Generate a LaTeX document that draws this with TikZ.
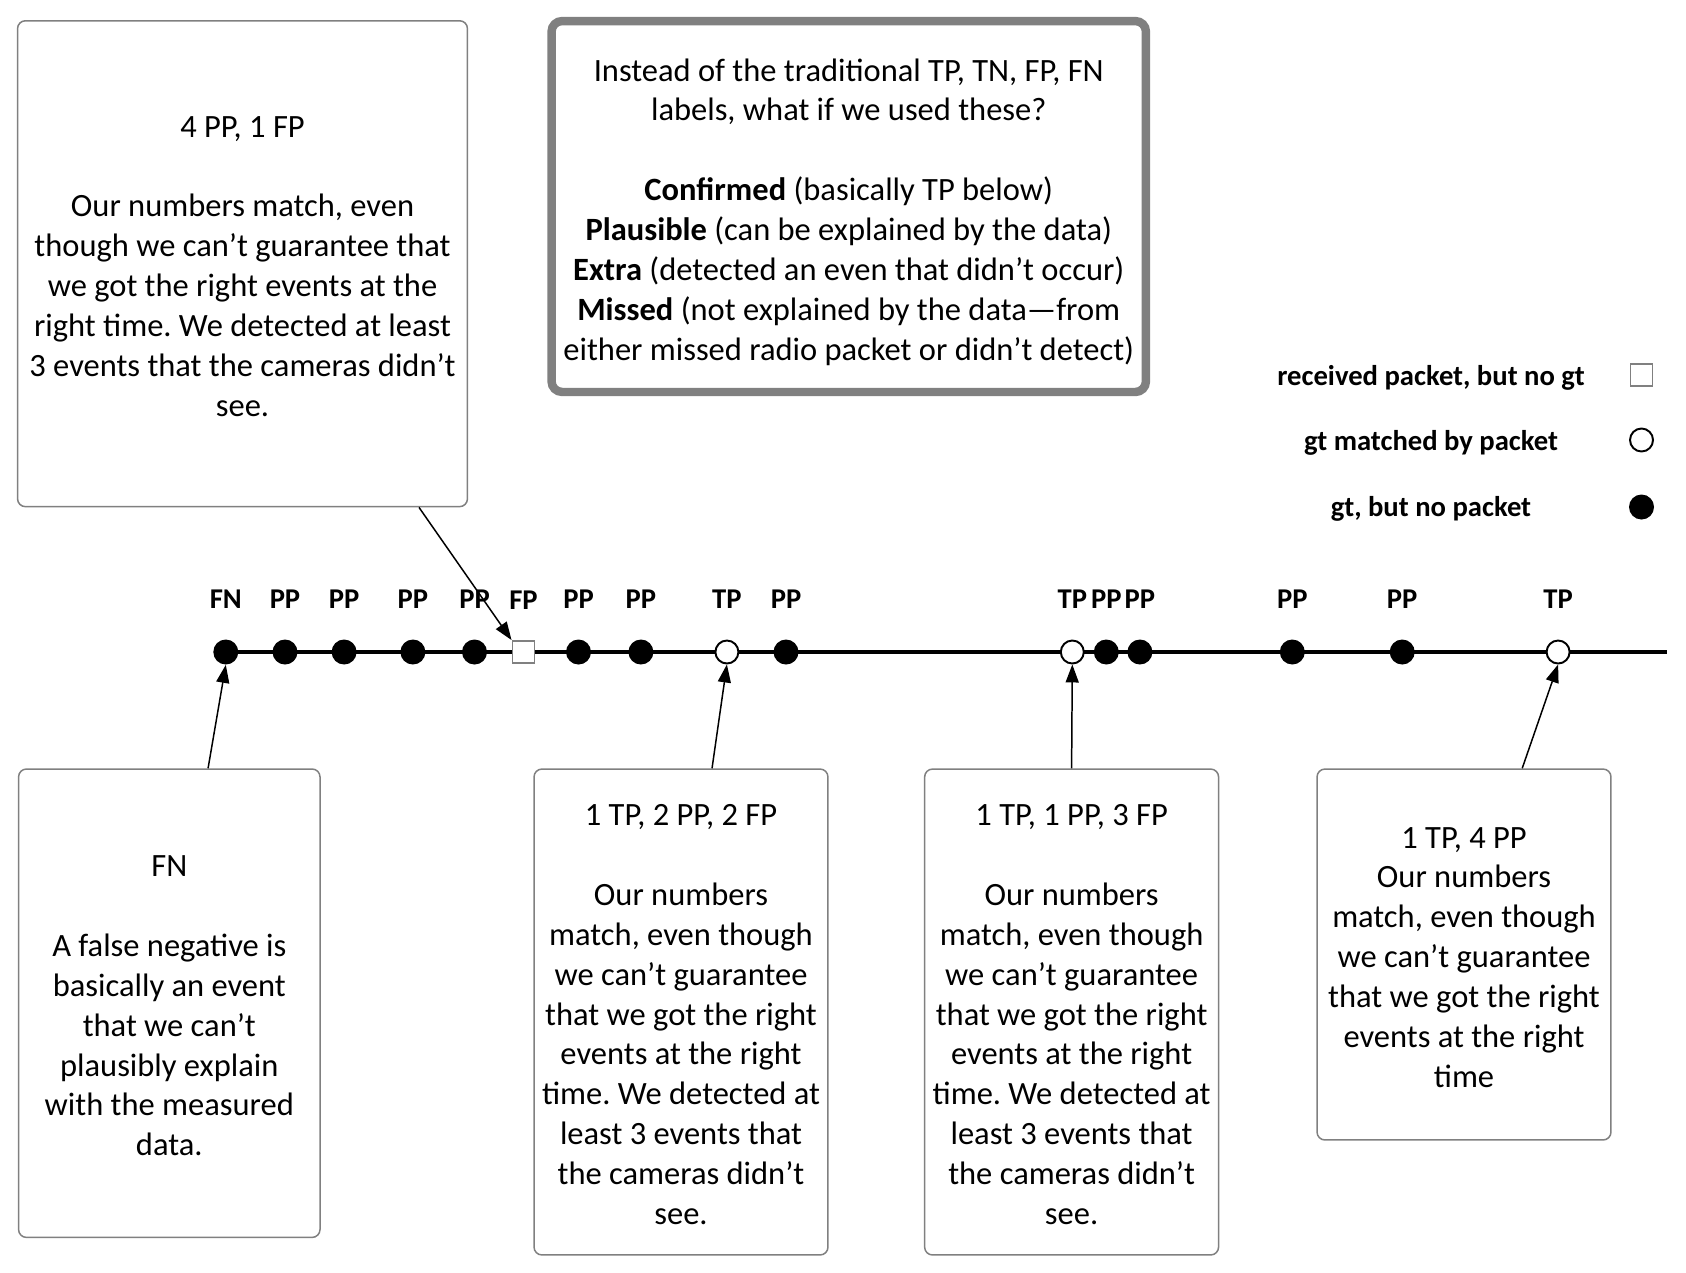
\documentclass[tikz,border=0pt]{standalone}
\usepackage{fontspec}
\setmainfont{Carlito}
\usetikzlibrary{arrows.meta, positioning, backgrounds, calc}
\frenchspacing

\begin{document}
\begin{tikzpicture}[x=0.02cm, y=-0.02cm,
  note/.style={rectangle, rounded corners=4.5pt, draw=black!50, line width=0.85pt, fill=white,
               align=center, inner sep=0pt, font=\fontsize{18.5}{22.68}\selectfont},
  key/.style={note, rounded corners=6pt, line width=4.8pt},
  gt/.style={circle, fill=black, inner sep=0pt, minimum size=0.5cm},
  seen/.style={circle, draw=black, line width=1.1pt, fill=white, inner sep=0pt, minimum size=0.46cm},
  pkt/.style={rectangle, draw=black!50, line width=1.1pt, fill=white, inner sep=0pt, minimum size=0.44cm},
  tag/.style={font=\bfseries\fontsize{16.3}{19}\selectfont, inner sep=0pt, yshift=0.61cm},
  legend/.style={font=\bfseries\fontsize{16.3}{19}\selectfont, inner sep=0pt, anchor=base},
  arr/.style={-{Triangle[length=0.36cm, width=0.26cm]}, line width=0.85pt},
  axis/.style={line width=2.5pt}]

  \useasboundingbox (0,0) rectangle (1686,1272);

  \node[note, minimum width=9.0cm, minimum height=9.72cm] at (242.5,263.7) (ppbox)
    {\rule{0pt}{15pt}4 PP, 1 FP\\[22.68pt]
     Our numbers match, even\\ though we can't guarantee that\\ we got the right events at the\\
     right time. We detected at least\\ 3 events that the cameras didn't\\ see.};

  \node[key, minimum width=11.89cm, minimum height=7.42cm] at (848.75,206.5) (keybox)
    {\rule{0pt}{19pt}Instead of the traditional TP, TN, FP, FN\\ labels, what if we used these?\\[22.68pt]
     \textbf{Confirmed} (basically TP below)\\
     \textbf{Plausible} (can be explained by the data)\\
     \textbf{Extra} (detected an even that didn't occur)\\
     \textbf{Missed} (not explained by the data---from\\
     either missed radio packet or didn't detect)};

  \node[legend] at (1431,385) (kpkt) {received packet, but no gt};
  \node[pkt] at (1641.5,375) (kpktsym) {};
  \node[legend] at (1431,450) (kseen) {gt matched by packet};
  \node[seen] at (1641.5,440) (kseensym) {};
  \node[legend] at (1431,516) (kgt) {gt, but no packet};
  \node[gt] at (1641.5,507) (kgtsym) {};

  \node[gt, label={[tag]above:FN}] at (225.8,652) (d1) {};
  \node[gt, label={[tag]above:PP}] at (285.0,652) (d2) {};
  \node[gt, label={[tag]above:PP}] at (344.1,652) (d3) {};
  \node[gt, label={[tag]above:PP}] at (412.9,652) (d4) {};
  \node[gt, label={[tag]above:PP}] at (474.5,652) (d5) {};
  \node[pkt, label={[tag]above:FP}] at (523.5,652) (d6) {};
  \node[gt, label={[tag]above:PP}] at (578.5,652) (d7) {};
  \node[gt, label={[tag]above:PP}] at (640.9,652) (d8) {};
  \node[seen, label={[tag]above:TP}] at (726.9,652) (d9) {};
  \node[gt, label={[tag]above:PP}] at (786.0,652) (d10) {};
  \node[seen, label={[tag]above:TP}] at (1072.3,652) (d11) {};
  \node[gt, label={[tag]above:PP}] at (1106.3,652) (d12) {};
  \node[gt, label={[tag]above:PP}] at (1139.9,652) (d13) {};
  \node[gt, label={[tag]above:PP}] at (1292.3,652) (d14) {};
  \node[gt, label={[tag]above:PP}] at (1402.2,652) (d15) {};
  \node[seen, label={[tag]above:TP}] at (1558.1,652) (d16) {};
  \coordinate (tend) at (1667,652);

  \node[note, minimum width=6.03cm, minimum height=9.37cm] at (169.3,1003.2) (fnbox)
    {\rule{0pt}{15pt}FN\\[22.68pt]
     A false negative is\\ basically an event\\ that we can't\\ plausibly explain\\
     with the measured\\ data.};

  \node[note, minimum width=5.88cm, minimum height=9.72cm] at (681,1012) (tp2box)
    {\rule{0pt}{15pt}1 TP, 2 PP, 2 FP\\[22.68pt]
     Our numbers\\ match, even though\\ we can't guarantee\\ that we got the right\\
     events at the right\\ time. We detected at\\ least 3 events that\\ the cameras didn't\\ see.};

  \node[note, minimum width=5.88cm, minimum height=9.72cm] at (1071.6,1012) (tp3box)
    {\rule{0pt}{15pt}1 TP, 1 PP, 3 FP\\[22.68pt]
     Our numbers\\ match, even though\\ we can't guarantee\\ that we got the right\\
     events at the right\\ time. We detected at\\ least 3 events that\\ the cameras didn't\\ see.};

  \node[note, minimum width=5.88cm, minimum height=7.42cm] at (1464,954.5) (tp4box)
    {\rule{0pt}{15pt}1 TP, 4 PP\\ Our numbers\\ match, even though\\ we can't guarantee\\
     that we got the right\\ events at the right\\ time};

  \begin{scope}[on background layer]
    \draw[axis] (d1.center) -- (tend);
  \end{scope}

  \draw[arr] ($(ppbox.south west)!0.891!(ppbox.south east)$) -- (d6.north west);
  \draw[arr] ($(fnbox.north west)!0.628!(fnbox.north east)$) -- (d1.south);
  \draw[arr] ($(tp2box.north west)!0.605!(tp2box.north east)$) -- (d9.south);
  \draw[arr] (tp3box.north) -- (d11.south);
  \draw[arr] ($(tp4box.north west)!0.697!(tp4box.north east)$) -- (d16.south);

\end{tikzpicture}
\end{document}
